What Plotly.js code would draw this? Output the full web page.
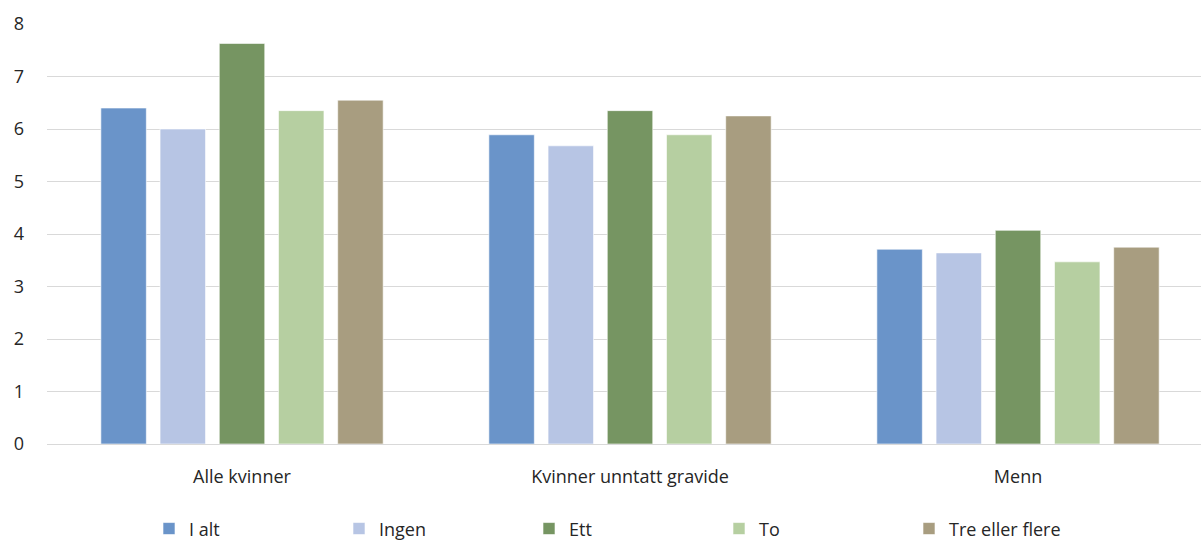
<!DOCTYPE html>
<html><head><meta charset="utf-8">
<script src="https://cdn.plot.ly/plotly-3.0.1.min.js"></script>
<style>html,body{margin:0;padding:0;background:#fff}#chart{width:1201px;height:541px}</style>
</head><body><div id="chart"></div>
<script>
const categories = ["Alle kvinner", "Kvinner unntatt gravide", "Menn"];
const seriesNames = ["I alt", "Ingen", "Ett", "To", "Tre eller flere"];
const iAlt = [6.40, 5.89, 3.71];
const ingen = [6.00, 5.68, 3.64];
const ett = [7.63, 6.35, 4.07];
const to = [6.35, 5.89, 3.47];
const treEllerFlere = [6.55, 6.25, 3.75];
const yTicks = [0, 1, 2, 3, 4, 5, 6, 7, 8];

const values = [iAlt, ingen, ett, to, treEllerFlere];
const colors = ["#6a94c9", "#b7c5e4", "#769562", "#b6cfa1", "#a89d80"];

const traces = seriesNames.map((n, i) => ({
  type: "bar", name: n, x: categories, y: values[i],
  marker: {color: colors[i], line: {color: "rgba(255,255,255,0.6)", width: 1}},
  hoverinfo: "none"
}));

const font = {family: "Open Sans, sans-serif", size: 18, color: "#262626"};
const layout = {
  width: 1201, height: 541,
  margin: {l: 47, r: 0, t: 24, b: 97, autoexpand: false},
  paper_bgcolor: "#fff", plot_bgcolor: "#fff",
  font: font,
  barmode: "group", bargap: 0.237, bargroupgap: 0.232,
  showlegend: true,
  legend: {orientation: "h", x: 0.5, xanchor: "center", y: -0.158, yanchor: "top",
           font: font, entrywidth: 145, entrywidthmode: "pixels", traceorder: "normal"},
  xaxis: {type: "category", range: [-0.5026, 2.4716], showline: true, linecolor: "#d9d9d9", linewidth: 1,
          ticks: "", ticklabelstandoff: 16, tickfont: font, fixedrange: true, automargin: false},
  yaxis: {range: [0, 8], tickvals: yTicks, ticktext: yTicks.map(String), showgrid: true, gridcolor: "#d9d9d9",
          gridwidth: 1, zeroline: false, showline: false, ticks: "", ticklabelstandoff: 22, tickfont: font,
          fixedrange: true, automargin: false}
};
Plotly.newPlot("chart", traces, layout, {displayModeBar: false, staticPlot: true});
</script></body></html>
